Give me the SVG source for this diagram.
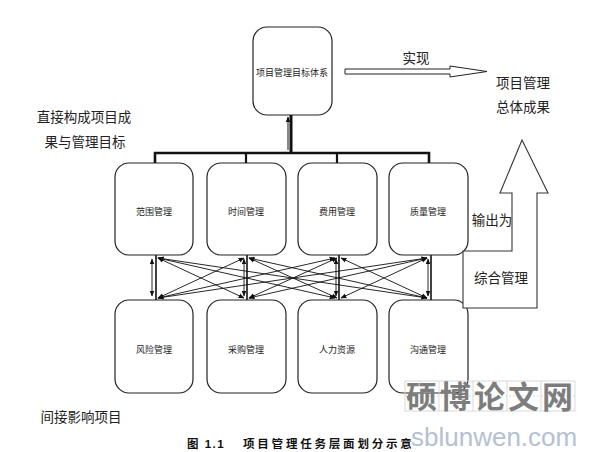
<svg xmlns="http://www.w3.org/2000/svg" width="594" height="452" viewBox="0 0 594 452">
<style>
.box{fill:#fff;stroke:#222;stroke-width:1.2}
.t{font-family:"Liberation Sans","Noto Sans CJK SC",sans-serif;fill:#222;text-anchor:middle;dominant-baseline:central}
.s{font-size:9px}
.m{font-size:13.5px}
.ln{stroke:#111;stroke-width:1;fill:none}
.dl{stroke:#111;stroke-width:0.9;fill:none;marker-start:url(#ah);marker-end:url(#ah)}
</style>
<defs>
<marker id="ah" viewBox="0 0 10 10" refX="9" refY="5" markerWidth="6" markerHeight="6" orient="auto-start-reverse" markerUnits="userSpaceOnUse">
<path d="M0,1 L10,5 L0,9 z" fill="#111"/>
</marker>
</defs>
<rect width="594" height="452" fill="#fff"/>

<g id="connectors">
<line x1="291" y1="115" x2="291" y2="153" stroke="#111" stroke-width="3"/>
<line x1="288" y1="150" x2="288" y2="117" class="ln" stroke-width="0.8" marker-end="url(#ah)"/>
<polyline points="155,163 155,153 429,153 429,163" fill="none" stroke="#111" stroke-width="2.6"/>
<line x1="246" y1="153" x2="246" y2="163" stroke="#111" stroke-width="2.2"/>
<line x1="337" y1="153" x2="337" y2="163" stroke="#111" stroke-width="2.2"/>
<g>
<line x1="152" y1="259" x2="152" y2="296" class="dl"/>
<line x1="156" y1="255" x2="156" y2="300" stroke="#111" stroke-width="1.6"/>
<line x1="244" y1="259" x2="244" y2="296" class="dl"/>
<line x1="247" y1="255" x2="247" y2="300" stroke="#111" stroke-width="1.6"/>
<line x1="336" y1="259" x2="336" y2="296" class="dl"/>
<line x1="339" y1="255" x2="339" y2="300" stroke="#111" stroke-width="1.6"/>
<line x1="428" y1="259" x2="428" y2="296" class="dl"/>
<line x1="431" y1="255" x2="431" y2="300" stroke="#111" stroke-width="1.6"/>
</g>
<g>
<line x1="158" y1="258" x2="244" y2="298" class="dl"/>
<line x1="158" y1="258" x2="335" y2="298" class="dl"/>
<line x1="158" y1="258" x2="427" y2="298" class="dl"/>
<line x1="158" y1="298" x2="244" y2="258" class="dl"/>
<line x1="158" y1="298" x2="335" y2="258" class="dl"/>
<line x1="158" y1="298" x2="427" y2="258" class="dl"/>
<line x1="249" y1="258" x2="337" y2="298" class="dl"/>
<line x1="249" y1="258" x2="427" y2="298" class="dl"/>
<line x1="249" y1="298" x2="337" y2="258" class="dl"/>
<line x1="249" y1="298" x2="427" y2="258" class="dl"/>
<line x1="341" y1="258" x2="427" y2="298" class="dl"/>
<line x1="341" y1="298" x2="427" y2="258" class="dl"/>
</g>
<polygon points="345,69 450,69 450,66 487,71.5 450,77 450,74 345,74" fill="#fff" stroke="#222" stroke-width="1"/>
</g>

<g id="n-top"><rect class="box" x="253" y="27" width="79" height="88" rx="14"/><text class="t s" x="292" y="73">项目管理目标体系</text></g>

<g id="n-fanwei"><rect class="box" x="115" y="163" width="78" height="92" rx="14"/><text class="t s" x="154" y="212">范围管理</text></g>
<g id="n-shijian"><rect class="box" x="207" y="163" width="79" height="92" rx="14"/><text class="t s" x="246" y="212">时间管理</text></g>
<g id="n-feiyong"><rect class="box" x="298" y="163" width="79" height="92" rx="14"/><text class="t s" x="337" y="212">费用管理</text></g>
<g id="n-zhiliang"><rect class="box" x="389" y="163" width="79" height="92" rx="14"/><text class="t s" x="428" y="212">质量管理</text></g>

<g id="n-fengxian"><rect class="box" x="115" y="300" width="78" height="93" rx="14"/><text class="t s" x="154" y="350">风险管理</text></g>
<g id="n-caigou"><rect class="box" x="207" y="300" width="79" height="93" rx="14"/><text class="t s" x="246" y="350">采购管理</text></g>
<g id="n-renli"><rect class="box" x="298" y="300" width="79" height="93" rx="14"/><text class="t s" x="337" y="350">人力资源</text></g>
<g id="n-goutong"><rect class="box" x="389" y="300" width="79" height="93" rx="14"/><text class="t s" x="428" y="350">沟通管理</text></g>

<g id="n-bigarrow">
<polygon points="522,140 548,193 537,193 537,308 463,308 463,251 512,251 512,193 500,193" fill="#fff" stroke="#333" stroke-width="1.1"/>
<text class="t m" x="492" y="220">输出为</text>
<text class="t m" x="501" y="278">综合管理</text>
</g>

<g id="labels">
<text class="t m" x="416" y="58">实现</text>
<text class="t m" x="523" y="83">项目管理</text>
<text class="t m" x="523" y="107">总体成果</text>
<text class="t m" x="84" y="117">直接构成项目成</text>
<text class="t m" x="85" y="142">果与管理目标</text>
<text class="t m" x="81" y="417">间接影响项目</text>
<text x="187" y="448" font-family="Liberation Sans,'Noto Sans CJK SC',sans-serif" font-size="11.5" font-weight="bold" fill="#111" letter-spacing="1.5">图 1.1</text>
<text x="243" y="448" font-family="Liberation Sans,'Noto Sans CJK SC',sans-serif" font-size="11.5" font-weight="bold" fill="#111" letter-spacing="2.8">项目管理任务层面划分示意</text>
</g>

<g id="watermark">
<g stroke="#cfcfcf" stroke-width="0.8" fill="none">
<rect x="405" y="381" width="170" height="30"/>
<line x1="439" y1="381" x2="439" y2="411"/><line x1="473" y1="381" x2="473" y2="411"/><line x1="507" y1="381" x2="507" y2="411"/><line x1="541" y1="381" x2="541" y2="411"/>
<line x1="405" y1="396" x2="575" y2="396" stroke-dasharray="2,2"/>
</g>
<text x="406" y="408" font-family="'Noto Sans CJK SC',sans-serif" font-size="31" font-weight="bold" fill="#7d7d7d" letter-spacing="3">硕博论文网</text>
<text x="411" y="446" font-family="Liberation Sans,sans-serif" font-size="26" fill="#b4c1d2">sblunwen.com</text>
</g>
</svg>
